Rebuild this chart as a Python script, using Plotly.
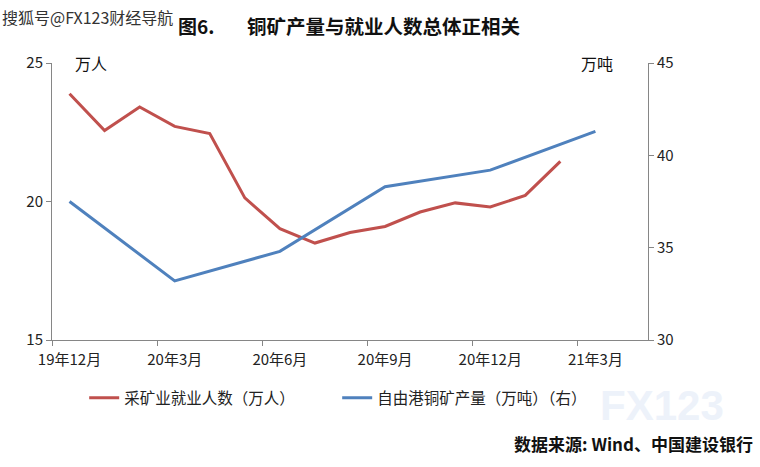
import plotly.graph_objects as go

# month index 0 = 19年12月 ... 16 = 21年4月
tick_idx = [0, 3, 6, 9, 12, 15]
tick_text = ["19年12月", "20年3月", "20年6月", "20年9月", "20年12月", "21年3月"]

emp_x = list(range(15))
employment = [23.89, 22.56, 23.41, 22.71, 22.45, 20.13, 19.02, 18.50,
              18.88, 19.10, 19.62, 19.95, 19.80, 20.22, 21.45]

copper_x = [0, 3, 6, 9, 12, 15]
copper = [37.5, 33.2, 34.8, 38.3, 39.2, 41.3]

RED = "#C0504D"
BLUE = "#4F81BD"
AXIS = "#868686"
FONT = "Noto Sans CJK SC"

fig = go.Figure()
fig.add_trace(go.Scatter(
    x=emp_x, y=employment, name="采矿业就业人数（万人）",
    mode="lines", line=dict(color=RED, width=3),
))
fig.add_trace(go.Scatter(
    x=copper_x, y=copper, name="自由港铜矿产量（万吨）（右）",
    mode="lines", line=dict(color=BLUE, width=3), yaxis="y2",
))

fig.update_layout(
    width=760, height=467,
    margin=dict(l=52, r=112, t=63, b=127, autoexpand=False),
    paper_bgcolor="white", plot_bgcolor="white",
    font=dict(family=FONT, size=15, color="#222"),
    showlegend=True,
    legend=dict(orientation="h", x=0.054, y=-0.21, xanchor="left", yanchor="middle",
                entrywidth=208, entrywidthmode="pixels",
                font=dict(size=15.5, color="#222"), itemwidth=30),
    xaxis=dict(
        range=[-0.5, 16.5], tickvals=tick_idx, ticktext=tick_text, ticks="",
        showline=True, linecolor=AXIS, linewidth=1, showgrid=False, zeroline=False,
        minor=dict(tickvals=[i - 0.5 for i in range(0, 18, 3)], ticks="outside",
                   ticklen=5, tickcolor=AXIS, showgrid=False),
        tickfont=dict(size=15), ticklabelstandoff=6,
    ),
    yaxis=dict(
        range=[15, 25], dtick=5, ticks="outside", ticklen=5, tickcolor=AXIS,
        showline=True, linecolor=AXIS, showgrid=False, zeroline=False,
        tickfont=dict(size=15),
    ),
    yaxis2=dict(
        range=[30, 45], dtick=5, overlaying="y", side="right", ticks="outside",
        ticklen=5, tickcolor=AXIS, showline=True, linecolor=AXIS, showgrid=False,
        zeroline=False, tickfont=dict(size=15),
    ),
)

fig.add_annotation(text="<b>FX123</b>", x=1.023, y=-0.235, xref="paper", yref="paper",
                   xanchor="center", yanchor="middle", showarrow=False,
                   font=dict(family="Liberation Sans", size=42, color="#EDF2FA"))

notes = [
    dict(text="<b>图6.</b>", x=0.208, y=1.137, xanchor="left", size=19),
    dict(text="<b>铜矿产量与就业人数总体正相关</b>", x=0.324, y=1.137, xanchor="left", size=19.5),
    dict(text="搜狐号@FX123财经导航", x=-0.087, y=1.166, xanchor="left", size=16, color="#333"),
    dict(text="万人", x=0.035, y=1.0, xanchor="left", size=16),
    dict(text="万吨", x=0.945, y=1.0, xanchor="right", size=16),
    dict(text="<b>数据来源: Wind、中国建设银行</b>", x=1.18, y=-0.372, xanchor="right", size=17),
]
for n in notes:
    fig.add_annotation(text=n["text"], x=n["x"], y=n["y"], xref="paper", yref="paper",
                       xanchor=n["xanchor"], yanchor="middle", showarrow=False,
                       font=dict(family=FONT, size=n["size"], color=n.get("color", "#111")))

fig.write_html("out.html", config={"displayModeBar": False},
               post_script="document.body.style.margin='0';")
